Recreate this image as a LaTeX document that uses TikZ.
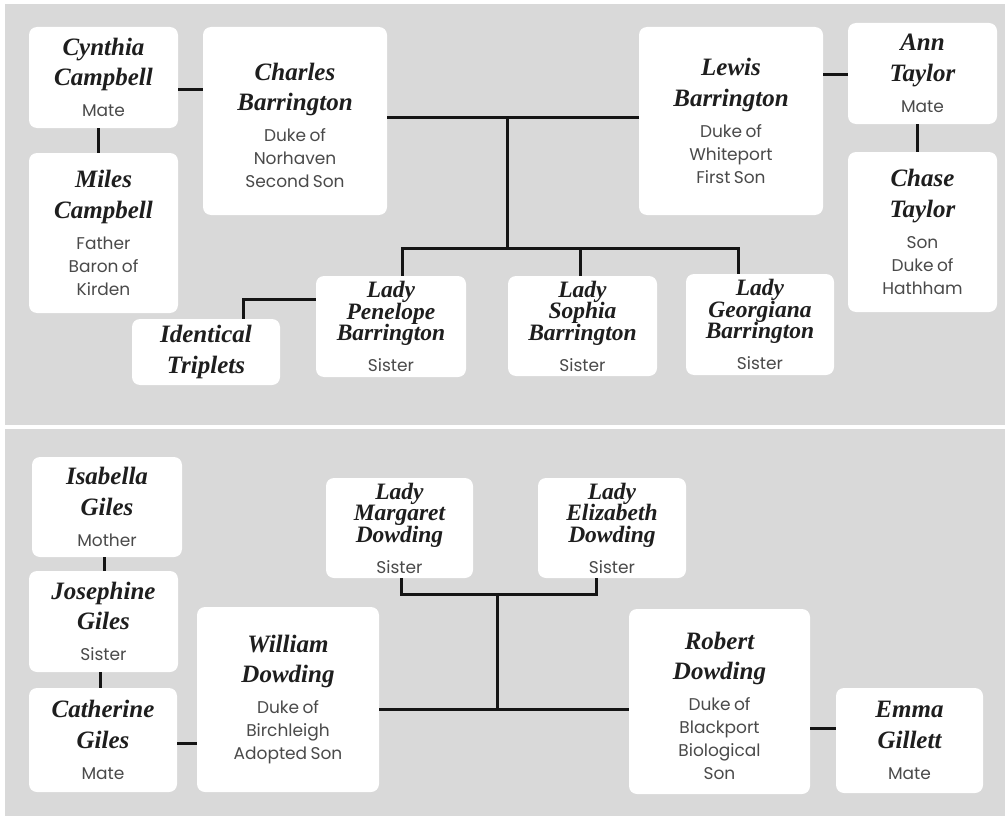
\documentclass[tikz,border=0pt]{standalone}
\usepackage{fontspec}
\newfontfamily\namefontfam{Liberation Serif}
\newfontfamily\subfontfam{Poppins}
\definecolor{bggray}{HTML}{D9D9D9}
\definecolor{namec}{HTML}{1E1E1E}
\definecolor{subc}{HTML}{4A4A4A}
\definecolor{linec}{HTML}{151515}
\newcommand\pname{\fontsize{25}{30.5}\selectfont\namefontfam\bfseries\itshape\color{namec}}
\newcommand\plady{\fontsize{23.5}{21.5}\selectfont\namefontfam\bfseries\itshape\color{namec}}
\newcommand\psub{\fontsize{17}{23}\selectfont\subfontfam\color{subc}}
\newcommand\topstrut{\rule{0pt}{26pt}}
\setlength\parindent{0pt}
\begin{document}
\begin{tikzpicture}[x=1pt,y=-1pt,
  box/.style={fill=white, rounded corners=8pt, inner sep=0pt, align=center},
  conn/.style={draw=linec, line width=3pt}]
\useasboundingbox (0,0) rectangle (1005,816);
\fill[white] (0,0) rectangle (1005,816);
\fill[bggray] (5,4) rectangle (1005,424.5);
\fill[bggray] (5,428.5) rectangle (1005,816);

% ---------- top panel ----------
\node[box, text width=149pt, minimum height=101pt] (cynthia) at (103.5,77.5)
  {{\pname Cynthia\\Campbell\par}\vspace{8pt}{\psub Mate\par}};
\node[box, text width=149pt, minimum height=160pt] (miles) at (103.5,233)
  {{\pname Miles\\Campbell\par}\vspace{8pt}{\psub Father\\Baron of\\Kirden\par}};
\node[box, text width=184pt, minimum height=188pt] (charles) at (295,121)
  {{\pname\topstrut Charles\\Barrington\par}\vspace{8pt}{\psub Duke of\\Norhaven\\Second Son\par}};
\node[box, text width=148pt, minimum height=66pt] (triplets) at (206,352)
  {{\pname Identical\\Triplets\par}};
\node[box, text width=150pt, minimum height=101pt] (penelope) at (391,326.5)
  {{\plady Lady\\Penelope\\Barrington\par}\vspace{8pt}{\psub Sister\par}};
\node[box, text width=149pt, minimum height=100pt] (sophia) at (582.5,326)
  {{\plady Lady\\Sophia\\Barrington\par}\vspace{8pt}{\psub Sister\par}};
\node[box, text width=148pt, minimum height=101pt] (georgiana) at (760,324.5)
  {{\plady Lady\\Georgiana\\Barrington\par}\vspace{8pt}{\psub Sister\par}};
\node[box, text width=184pt, minimum height=188pt] (lewis) at (731,121)
  {{\pname Lewis\\Barrington\par}\vspace{8pt}{\psub Duke of\\Whiteport\\First Son\par}};
\node[box, text width=149pt, minimum height=101pt] (ann) at (922.5,73.5)
  {{\pname Ann\\Taylor\par}\vspace{8pt}{\psub Mate\par}};
\node[box, text width=149pt, minimum height=160pt] (chase) at (922.5,232)
  {{\pname Chase\\Taylor\par}\vspace{8pt}{\psub Son\\Duke of\\Hathham\par}};

\coordinate (j1) at (507,118);
\coordinate (j2) at (507,248);

\draw[conn] ([yshift=-12.5pt]cynthia.east) -- ([yshift=-12.5pt]cynthia.east -| charles.west);
\draw[conn] ([xshift=-5.5pt]cynthia.south) -- ([xshift=-5.5pt]miles.north);
\draw[conn] ([yshift=3pt]charles.east) -- ([yshift=3pt]lewis.west);
\draw[conn] (j1) -- (j2);
\draw[conn] ([xshift=11pt]penelope.north) |- (j2) -| ([xshift=-22pt]georgiana.north);
\draw[conn] ([xshift=-2.5pt]sophia.north) -- ([xshift=-2.5pt]sophia.north |- j2);
\draw[conn] ([yshift=27.5pt]penelope.west) -| ([xshift=37pt]triplets.north);
\draw[conn] ([yshift=46pt]lewis.east) -- ([yshift=46pt]lewis.east -| ann.west);
\draw[conn] ([xshift=-5.5pt]ann.south) -- ([xshift=-5.5pt]chase.north);

% ---------- bottom panel ----------
\node[box, text width=150pt, minimum height=100pt] (isabella) at (107,507)
  {{\pname Isabella\\Giles\par}\vspace{8pt}{\psub Mother\par}};
\node[box, text width=149pt, minimum height=101pt] (josephine) at (103.5,621.5)
  {{\pname Josephine\\Giles\par}\vspace{8pt}{\psub Sister\par}};
\node[box, text width=148pt, minimum height=104pt] (catherine) at (103,740)
  {{\pname Catherine\\Giles\par}\vspace{8pt}{\psub Mate\par}};
\node[box, text width=182pt, minimum height=185pt] (william) at (288,699.5)
  {{\pname William\\Dowding\par}\vspace{8pt}{\psub Duke of\\Birchleigh\\Adopted Son\par}};
\node[box, text width=147pt, minimum height=100pt] (margaret) at (399.5,528)
  {{\plady Lady\\Margaret\\Dowding\par}\vspace{8pt}{\psub Sister\par}};
\node[box, text width=148pt, minimum height=100pt] (elizabeth) at (612,528)
  {{\plady Lady\\Elizabeth\\Dowding\par}\vspace{8pt}{\psub Sister\par}};
\node[box, text width=181pt, minimum height=185pt] (robert) at (719.5,701.5)
  {{\pname\topstrut Robert\\Dowding\par}\vspace{8pt}{\psub Duke of\\Blackport\\Biological\\Son\par}};
\node[box, text width=147pt, minimum height=105pt] (emma) at (909.5,740.5)
  {{\pname Emma\\Gillett\par}\vspace{8pt}{\psub Mate\par}};

\coordinate (j3) at (497,594);
\coordinate (j4) at (497,709);

\draw[conn] ([xshift=-3pt]isabella.south) -- ([xshift=-3pt]isabella.south |- josephine.north);
\draw[conn] ([xshift=-3.5pt]josephine.south) -- ([xshift=-3.5pt]josephine.south |- catherine.north);
\draw[conn] ([yshift=-3pt]catherine.east) -- ([yshift=-3pt]catherine.east -| william.west);
\draw[conn] ([xshift=1.5pt]margaret.south) |- (j3) -| ([xshift=-16pt]elizabeth.south);
\draw[conn] (j3) -- (j4);
\draw[conn] ([yshift=-9.5pt]william.east) -- ([yshift=-9.5pt]william.east -| robert.west);
\draw[conn] ([yshift=-26.5pt]robert.east) -- ([yshift=-26.5pt]robert.east -| emma.west);
\end{tikzpicture}
\end{document}
